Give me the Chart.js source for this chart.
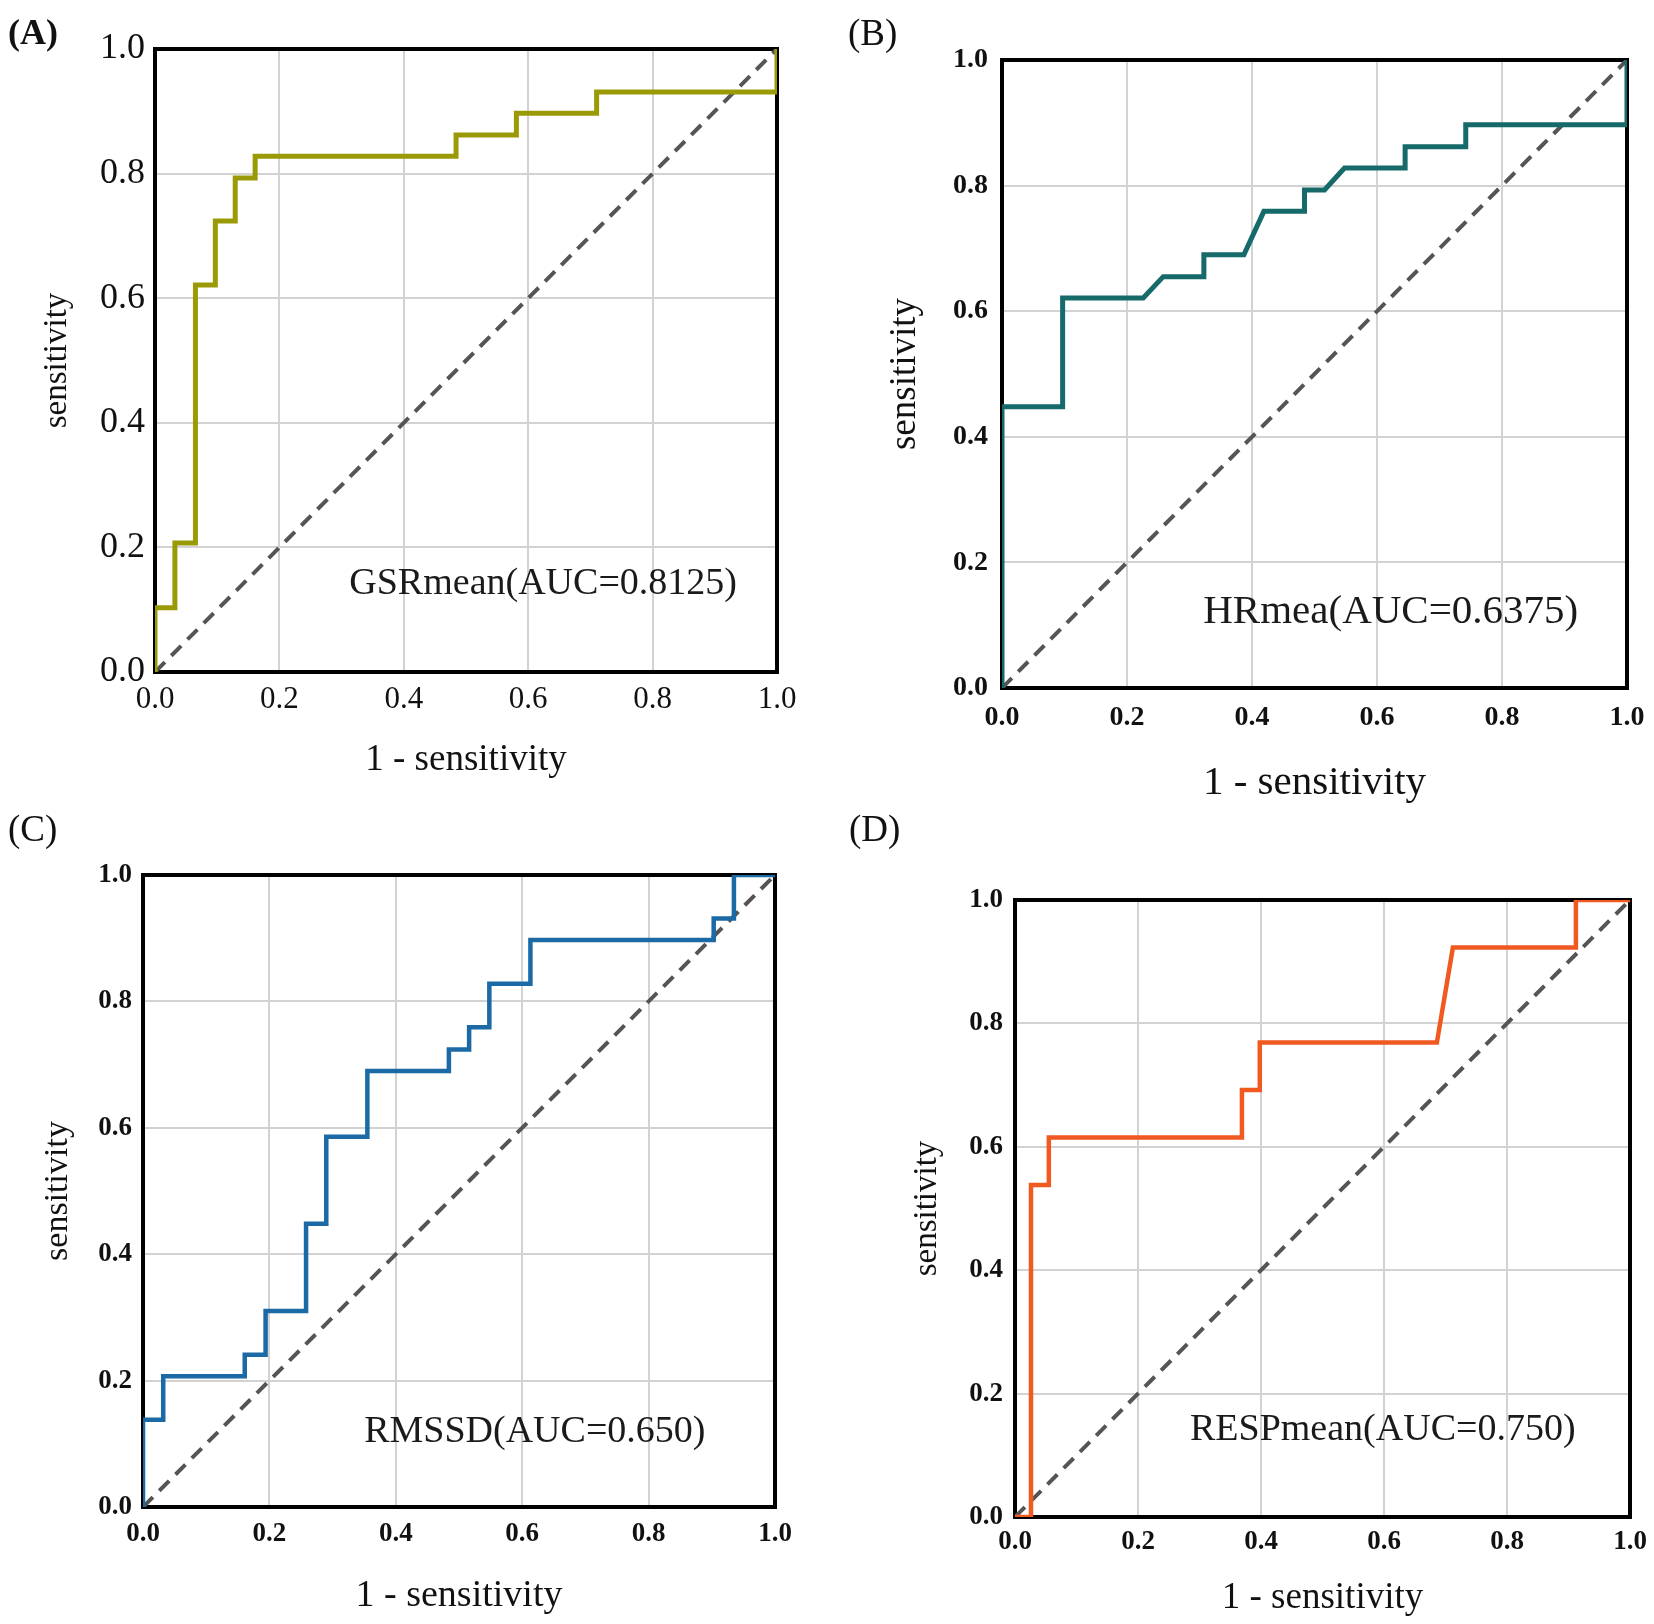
<!DOCTYPE html>
<html>
<head>
<meta charset="utf-8">
<script src="https://cdn.jsdelivr.net/npm/chart.js@4.4.1/dist/chart.umd.min.js"></script>
<style>
  body { margin: 0; background: #fff; }
  #wrap { position: relative; width: 1654px; height: 1624px; }
  canvas { position: absolute; }
  .tag { position: absolute; font-family: "Liberation Serif", serif; color: #111; line-height: 1; }
</style>
</head>
<body>
<div id="wrap">
  <canvas id="chartA" width="827" height="812" style="left:0;top:0"></canvas>
  <canvas id="chartB" width="827" height="812" style="left:827px;top:0"></canvas>
  <canvas id="chartC" width="827" height="812" style="left:0;top:812px"></canvas>
  <canvas id="chartD" width="827" height="812" style="left:827px;top:812px"></canvas>
  <div class="tag" style="left:8px;top:14px;font-size:36px;font-weight:bold">(A)</div>
  <div class="tag" style="left:848px;top:14px;font-size:37px">(B)</div>
  <div class="tag" style="left:8px;top:810px;font-size:37px">(C)</div>
  <div class="tag" style="left:849px;top:810px;font-size:37px">(D)</div>
</div>
<script>
// ROC step curves (1 - specificity vs sensitivity)
const fprA = [0, 0, 0.032, 0.032, 0.065, 0.065, 0.097, 0.097, 0.129, 0.129, 0.161, 0.161, 0.484, 0.484, 0.581, 0.581, 0.710, 0.710, 1, 1];
const tprA = [0, 0.103, 0.103, 0.207, 0.207, 0.621, 0.621, 0.724, 0.724, 0.793, 0.793, 0.828, 0.828, 0.862, 0.862, 0.897, 0.897, 0.931, 0.931, 1];

const fprB = [0, 0, 0.097, 0.097, 0.226, 0.258, 0.323, 0.323, 0.387, 0.419, 0.484, 0.484, 0.516, 0.548, 0.645, 0.645, 0.742, 0.742, 1, 1];
const tprB = [0, 0.448, 0.448, 0.621, 0.621, 0.655, 0.655, 0.690, 0.690, 0.759, 0.759, 0.793, 0.793, 0.828, 0.828, 0.862, 0.862, 0.897, 0.897, 1];

const fprC = [0, 0, 0.032, 0.032, 0.161, 0.161, 0.194, 0.194, 0.258, 0.258, 0.290, 0.290, 0.355, 0.355, 0.484, 0.484, 0.516, 0.516, 0.548, 0.548, 0.613, 0.613, 0.903, 0.903, 0.935, 0.935, 1];
const tprC = [0, 0.138, 0.138, 0.207, 0.207, 0.241, 0.241, 0.310, 0.310, 0.448, 0.448, 0.586, 0.586, 0.690, 0.690, 0.724, 0.724, 0.759, 0.759, 0.828, 0.828, 0.897, 0.897, 0.931, 0.931, 1, 1];

const fprD = [0, 0.026, 0.026, 0.055, 0.055, 0.369, 0.369, 0.398, 0.398, 0.686, 0.712, 0.912, 0.912, 1];
const tprD = [0, 0, 0.538, 0.538, 0.615, 0.615, 0.692, 0.692, 0.769, 0.769, 0.923, 0.923, 1, 1];

// reference diagonal
const diagX = [0, 1];
const diagY = [0, 1];

const aucLabels = ['GSRmean(AUC=0.8125)', 'HRmea(AUC=0.6375)', 'RMSSD(AUC=0.650)', 'RESPmean(AUC=0.750)'];
const xTitle = '1 - sensitivity';
const yTitle = 'sensitivity';

const SERIF = '"Liberation Serif", "Times New Roman", serif';

function toPoints(xs, ys) {
    return xs.map((x, i) => ({ x: x, y: ys[i] }));
}

// black box round the plot area, under the curves
const framePlugin = {
    id: 'frame',
    beforeDatasetsDraw(chart) {
        const a = chart.chartArea;
        const ctx = chart.ctx;
        ctx.save();
        ctx.strokeStyle = '#000';
        ctx.lineWidth = 4;
        ctx.strokeRect(a.left, a.top, a.right - a.left, a.bottom - a.top);
        ctx.restore();
    }
};

// AUC caption placed in data units
const aucPlugin = {
    id: 'auc',
    afterDatasetsDraw(chart, args, opts) {
        const ctx = chart.ctx;
        ctx.save();
        ctx.font = opts.size + 'px ' + SERIF;
        ctx.fillStyle = '#1a1a1a';
        ctx.textAlign = 'center';
        ctx.textBaseline = 'middle';
        ctx.fillText(opts.text, chart.scales.x.getPixelForValue(opts.x), chart.scales.y.getPixelForValue(opts.y));
        ctx.restore();
    }
};

function makePanel(p) {
    let ctx = document.getElementById(p.id).getContext('2d');
    return new Chart(ctx, {
        type: 'scatter',
        data: {
            datasets: [{
                data: toPoints(p.fpr, p.tpr),
                showLine: true,
                borderColor: p.color,
                borderWidth: p.lineWidth,
                pointRadius: 0,
                tension: 0
            }, {
                data: toPoints(diagX, diagY),
                showLine: true,
                borderColor: '#555',
                borderWidth: 4,
                borderDash: [14, 9],
                pointRadius: 0
            }]
        },
        options: {
            responsive: false,
            animation: false,
            devicePixelRatio: 1,
            layout: { padding: p.pad },
            plugins: {
                legend: { display: false },
                tooltip: { enabled: false },
                auc: { text: p.label, x: p.labelX, y: p.labelY, size: p.labelSize }
            },
            scales: {
                x: {
                    type: 'linear', min: 0, max: 1,
                    border: { display: false },
                    grid: { color: '#d2d2d2', lineWidth: 2, drawTicks: false },
                    ticks: {
                        stepSize: 0.2, autoSkip: false, maxRotation: 0,
                        padding: p.xTickPad, color: '#111',
                        font: { family: SERIF, size: p.xTickSize || p.tickSize, weight: p.tickWeight, lineHeight: 1 },
                        callback: v => v.toFixed(1)
                    },
                    title: {
                        display: true, text: xTitle, color: '#111', padding: 0,
                        font: { family: SERIF, size: p.xTitleSize, lineHeight: 1 }
                    },
                    afterFit: s => { s.height = p.xH; s.paddingLeft = 0; s.paddingRight = 0; }
                },
                y: {
                    type: 'linear', min: 0, max: 1,
                    border: { display: false },
                    grid: { color: '#d2d2d2', lineWidth: 2, drawTicks: false },
                    ticks: {
                        stepSize: 0.2, autoSkip: false,
                        padding: p.yTickPad, color: '#111',
                        font: { family: SERIF, size: p.tickSize, weight: p.tickWeight, lineHeight: 1 },
                        callback: v => v.toFixed(1)
                    },
                    title: {
                        display: true, text: yTitle, color: '#111', padding: 0,
                        font: { family: SERIF, size: p.yTitleSize, lineHeight: 1 }
                    },
                    afterFit: s => { s.width = p.yW; s.paddingTop = 0; s.paddingBottom = 0; }
                }
            }
        },
        plugins: [framePlugin, aucPlugin]
    });
}

makePanel({
    id: 'chartA', fpr: fprA, tpr: tprA, color: '#9a9a06', lineWidth: 5,
    label: aucLabels[0], labelX: 0.624, labelY: 0.141, labelSize: 38,
    tickSize: 36, xTickSize: 31, tickWeight: 'normal', xTitleSize: 37, yTitleSize: 33,
    pad: { left: 41, top: 49, right: 50, bottom: 33 }, yW: 114, xH: 107, yTickPad: 10, xTickPad: 12
});
makePanel({
    id: 'chartB', fpr: fprB, tpr: tprB, color: '#176a6a', lineWidth: 5,
    label: aucLabels[1], labelX: 0.622, labelY: 0.121, labelSize: 41,
    tickSize: 28, tickWeight: 'bold', xTitleSize: 41, yTitleSize: 37,
    pad: { left: 60, top: 60, right: 27, bottom: 8 }, yW: 115, xH: 116, yTickPad: 14, xTickPad: 16
});
makePanel({
    id: 'chartC', fpr: fprC, tpr: tprC, color: '#1b6aa6', lineWidth: 4.5,
    label: aucLabels[2], labelX: 0.62, labelY: 0.119, labelSize: 38,
    tickSize: 27, tickWeight: 'bold', xTitleSize: 38, yTitleSize: 34,
    pad: { left: 41, top: 63, right: 52, bottom: 9 }, yW: 102, xH: 108, yTickPad: 11, xTickPad: 14
});
makePanel({
    id: 'chartD', fpr: fprD, tpr: tprD, color: '#f05a20', lineWidth: 4.5,
    label: aucLabels[3], labelX: 0.598, labelY: 0.141, labelSize: 38,
    tickSize: 27, tickWeight: 'bold', xTitleSize: 37, yTitleSize: 33,
    pad: { left: 84, top: 88, right: 24, bottom: 7 }, yW: 104, xH: 100, yTickPad: 12, xTickPad: 12
});
</script>
</body>
</html>
